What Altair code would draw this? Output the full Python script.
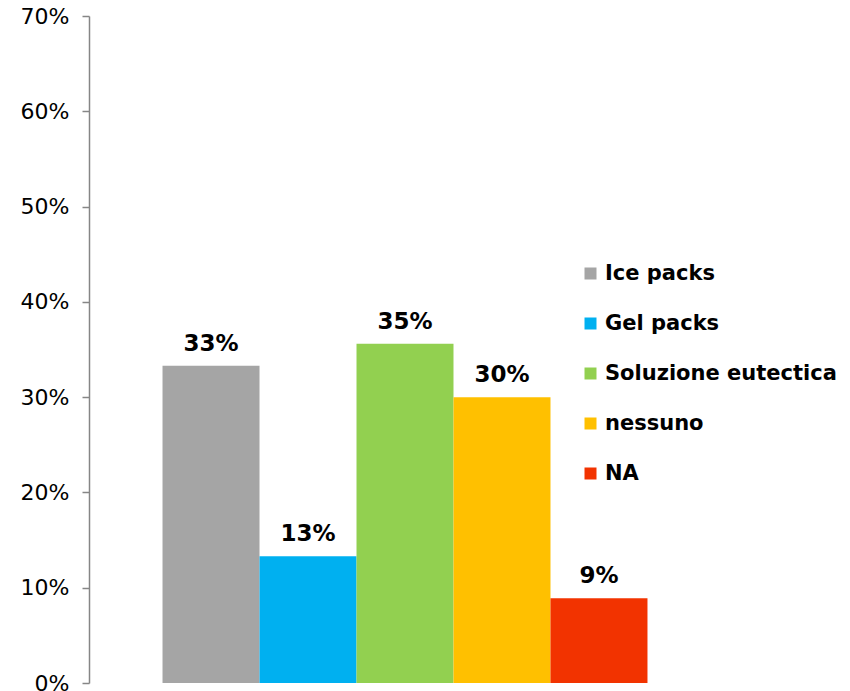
import altair as alt
import pandas as pd

series = ["Ice packs", "Gel packs", "Soluzione eutectica", "nessuno", "NA"]
values = [0.333, 0.133, 0.356, 0.300, 0.089]
labels = ["33%", "13%", "35%", "30%", "9%"]
colors = ["#A5A5A5", "#00B0F0", "#92D050", "#FFC000", "#F23300"]
y_ticks = [0, 0.1, 0.2, 0.3, 0.4, 0.5, 0.6, 0.7]

df = pd.DataFrame({"series": series, "value": values, "label": labels})

FONT = "DejaVu Sans"

x = alt.X("series:N", sort=series, axis=None,
          scale=alt.Scale(paddingInner=0, paddingOuter=0.758))
y = alt.Y("value:Q", title=None,
          scale=alt.Scale(domain=[0, 0.7], nice=False, zero=True),
          axis=alt.Axis(values=y_ticks, format=".0%", grid=False,
                        domainColor="#868686", domainWidth=1.5,
                        tickColor="#868686", tickSize=7, tickWidth=1.5,
                        labelFont=FONT, labelFontSize=22, labelColor="#000000",
                        labelPadding=13))

bars = alt.Chart(df).mark_bar().encode(
    x=x, y=y,
    color=alt.Color("series:N", sort=series,
                    scale=alt.Scale(domain=series, range=colors),
                    legend=alt.Legend(title=None, orient="none",
                                      legendX=491, legendY=247,
                                      symbolType="square", symbolSize=144,
                                      symbolStrokeWidth=0,
                                      labelFont=FONT, labelFontSize=21,
                                      labelFontWeight="bold", labelColor="#000000",
                                      labelOffset=4, rowPadding=28,
                                      labelLimit=400))
)

text = alt.Chart(df).mark_text(font=FONT, fontSize=23, fontWeight="bold",
                               color="#000000", baseline="alphabetic",
                               dy=-15).encode(
    x=x, y=y, text="label:N"
)

chart = alt.layer(bars, text).properties(
    width=632, height=667,
    autosize=alt.AutoSizeParams(type="none"),
    padding={"left": 89, "top": 16, "right": 129, "bottom": 8},
).configure_view(stroke=None)

chart.save("out.html", embed_options={"renderer": "svg", "actions": False})
